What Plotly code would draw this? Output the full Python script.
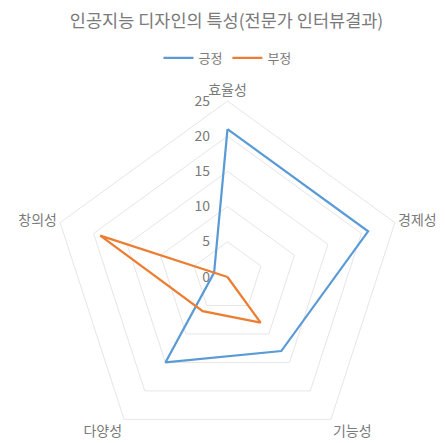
import plotly.graph_objects as go

categories = ["효율성", "경제성", "기능성", "다양성", "창의성"]
positive = [21, 21, 13, 15, 2]
negative = [0, 0, 8, 6, 19]
series_names = ["긍정", "부정"]
radial_ticks = [0, 5, 10, 15, 20, 25]

W = 446
CX, CY, R = 227.5, 277, 176
H = int(CY + R)
FONT = "Noto Sans CJK KR, Malgun Gothic, sans-serif"
TXT = "#7a7a7a"
CLEAR = "rgba(0,0,0,0)"

fig = go.Figure()
for name, vals, color in [(series_names[0], positive, "#5B9BD5"), (series_names[1], negative, "#ED7D31")]:
    fig.add_trace(go.Scatterpolar(
        r=vals + vals[:1], theta=categories + categories[:1],
        mode="lines", name=name,
        line=dict(color=color, width=2.25),
    ))

fig.update_layout(
    width=W, height=H,
    margin=dict(l=0, r=0, t=0, b=0),
    paper_bgcolor="white", plot_bgcolor="white",
    font=dict(family=FONT, color=TXT, size=12),
    title=dict(text="인공지능 디자인의 특성(전문가 인터뷰결과)", x=0.508, xanchor="center",
               y=1 - 21 / H, yanchor="middle", yref="container",
               font=dict(size=17.5, color=TXT, family=FONT)),
    legend=dict(orientation="h", x=0.51, xanchor="center", y=1 - 58 / H, yanchor="middle",
                font=dict(size=13, color=TXT), itemwidth=30, tracegroupgap=0),
    polar=dict(
        domain=dict(x=[(CX - R) / W, (CX + R) / W], y=[0, (2 * R) / H]),
        gridshape="linear", bgcolor="white",
        radialaxis=dict(range=[0, 25], tickvals=radial_ticks, angle=90, tickangle=90,
                        showline=False, ticks="outside", ticklen=12, tickcolor=CLEAR,
                        gridcolor="#e6e6e6", gridwidth=1,
                        tickfont=dict(size=14, color=TXT), side="counterclockwise"),
        angularaxis=dict(rotation=90, direction="clockwise", showgrid=False,
                         showline=True, linecolor="#e6e6e6", linewidth=1,
                         ticks="", tickfont=dict(size=14, color=TXT)),
    ),
)

fig.write_html("out.html", post_script="document.documentElement.style.overflow='hidden';document.body.style.overflow='hidden';")
